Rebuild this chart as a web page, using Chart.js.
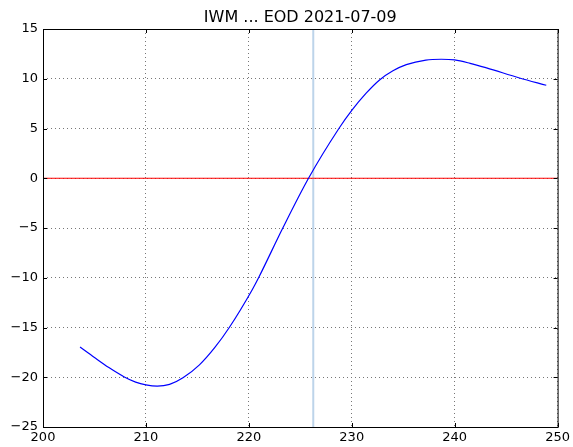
<!DOCTYPE html>
<html>
<head>
<meta charset="utf-8">
<script src="https://cdn.jsdelivr.net/npm/chart.js@4"></script>
<style>
  html, body { margin: 0; padding: 0; background: #fff; }
  canvas { display: block; }
</style>
</head>
<body>
<canvas id="chart" width="573" height="447"></canvas>
<script>
// values
const strikes = [203.6, 205.0, 206.4, 207.9, 209.0, 210.0, 211.1, 212.3, 213.6, 215.2, 216.7, 218.1, 220.33, 220.97, 223.3, 225.8, 228.75, 230.0, 231.4, 232.7, 234.0, 235.3, 237.2, 238.7, 240.0, 241.5, 243.1, 246.3, 248.9];
const values  = [-16.97, -18.02, -19.03, -19.97, -20.49, -20.77, -20.9, -20.72, -20.05, -18.75, -17.0, -15.0, -11.2, -9.95, -5.0, 0.0, 5.0, 6.82, 8.55, 9.88, 10.8, 11.42, 11.88, 11.96, 11.89, 11.55, 11.09, 10.08, 9.35];
const spotPrice = 226.26;
const xRange = [200, 250];
const yRange = [-25, 15];
const titleText = 'IWM ... EOD 2021-07-09';

const curve = strikes.map((x, i) => ({x: x, y: values[i]}));
const fontFam = "'DejaVu Sans', sans-serif";

// matplotlib classic look: inward ticks, frame, title over the axes
const frameAndTicks = {
    id: 'frameAndTicks',
    afterDraw(chart) {
        const ctx = chart.ctx;
        const a = chart.chartArea;
        const xs = chart.scales.x, ys = chart.scales.y;
        ctx.save();
        ctx.strokeStyle = '#000';
        ctx.lineWidth = 1;
        ctx.beginPath();
        xs.ticks.forEach(t => {
            const px = Math.round(xs.getPixelForValue(t.value)) + 0.5;
            ctx.moveTo(px, a.bottom); ctx.lineTo(px, a.bottom - 4);
            ctx.moveTo(px, a.top); ctx.lineTo(px, a.top + 4);
        });
        ys.ticks.forEach(t => {
            const py = Math.round(ys.getPixelForValue(t.value)) + 0.5;
            ctx.moveTo(a.left, py); ctx.lineTo(a.left + 4, py);
            ctx.moveTo(a.right, py); ctx.lineTo(a.right - 4, py);
        });
        ctx.stroke();
        ctx.strokeRect(a.left + 0.5, a.top + 0.5, a.right - a.left, a.bottom - a.top);

        ctx.fillStyle = '#000';
        ctx.font = '16px ' + fontFam;
        ctx.textAlign = 'center';
        ctx.textBaseline = 'alphabetic';
        ctx.fillText(titleText, (a.left + a.right) / 2, 22);
        ctx.restore();
    }
};

const fmt = v => String(v).replace('-', '\u2212');

new Chart(document.getElementById('chart'), {
    type: 'scatter',
    data: {
        datasets: [
            {
                data: curve,
                showLine: true,
                cubicInterpolationMode: 'monotone',
                borderColor: '#0000ff',
                borderWidth: 1.2,
                pointRadius: 0,
                order: 1
            },
            {
                data: [{x: xRange[0], y: 0}, {x: xRange[1], y: 0}],
                showLine: true,
                borderColor: '#ff0000',
                borderWidth: 1,
                pointRadius: 0,
                order: 2
            },
            {
                data: [{x: spotPrice, y: yRange[0]}, {x: spotPrice, y: yRange[1]}],
                showLine: true,
                borderColor: '#bdd4ea',
                borderWidth: 2,
                pointRadius: 0,
                order: 3
            }
        ]
    },
    options: {
        responsive: false,
        animation: false,
        layout: { padding: { left: 0, right: 15, top: 29, bottom: 0 } },
        scales: {
            x: {
                type: 'linear',
                min: xRange[0],
                max: xRange[1],
                afterFit: s => { s.height = 20; },
                ticks: { stepSize: 10, color: '#000', padding: 3, font: { family: fontFam, size: 13 }, callback: fmt, maxRotation: 0 },
                grid: { color: '#777', lineWidth: 1, drawTicks: false },
                border: { display: false, dash: [1, 3] }
            },
            y: {
                min: yRange[0],
                max: yRange[1],
                afterFit: s => { s.width = 43; },
                ticks: { stepSize: 5, color: '#000', padding: 5, font: { family: fontFam, size: 13 }, callback: fmt },
                grid: { color: '#777', lineWidth: 1, drawTicks: false },
                border: { display: false, dash: [1, 3] }
            }
        },
        plugins: {
            legend: { display: false },
            tooltip: { enabled: false },
            title: { display: false }
        }
    },
    plugins: [frameAndTicks]
});
</script>
</body>
</html>
